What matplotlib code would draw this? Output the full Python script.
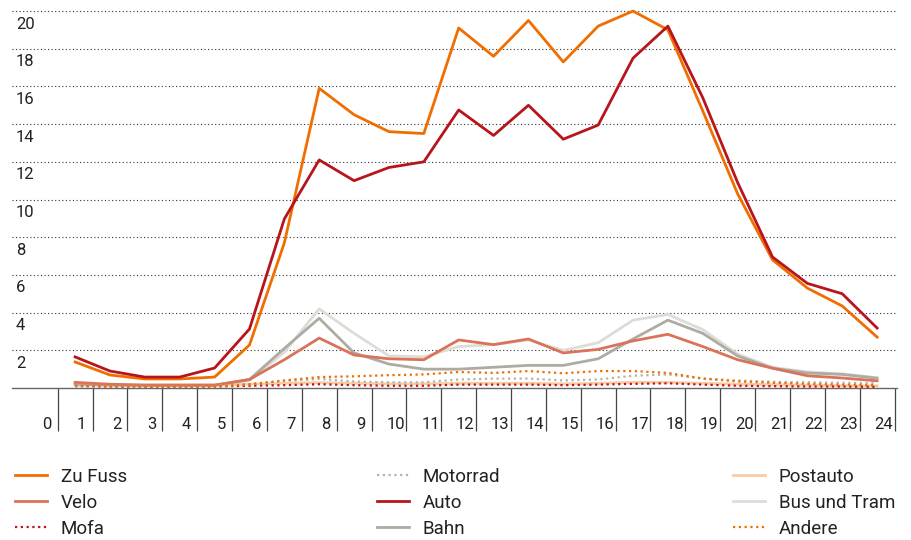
import matplotlib
matplotlib.use("Agg")
import matplotlib.pyplot as plt
import matplotlib.transforms as mtransforms
from matplotlib.lines import Line2D

plt.rcParams['font.family'] = ['Liberation Sans Narrow', 'Roboto', 'DejaVu Sans']

hours = list(range(1, 25))
hour_labels = [str(h) for h in range(0, 25)]
y_labels = list(range(2, 21, 2))

zu_fuss = [1.38, 0.69, 0.48, 0.48, 0.58, 2.28, 7.7, 15.9, 14.5, 13.6, 13.5, 19.1,
           17.6, 19.5, 17.3, 19.2, 20.0, 19.0, 14.7, 10.3, 6.8, 5.3, 4.35, 2.7]
auto = [1.65, 0.9, 0.58, 0.58, 1.06, 3.13, 8.97, 12.1, 11.0, 11.7, 12.0, 14.75,
        13.4, 15.0, 13.2, 13.95, 17.5, 19.2, 15.4, 10.9, 6.95, 5.55, 5.0, 3.18]
velo = [0.3, 0.2, 0.15, 0.15, 0.15, 0.45, 1.5, 2.65, 1.75, 1.55, 1.5, 2.55,
        2.3, 2.6, 1.86, 2.05, 2.5, 2.85, 2.2, 1.5, 1.05, 0.65, 0.53, 0.38]
bahn = [0.2, 0.15, 0.15, 0.15, 0.15, 0.45, 2.1, 3.7, 1.86, 1.27, 1.0, 1.0,
        1.1, 1.2, 1.2, 1.55, 2.6, 3.6, 2.9, 1.7, 1.05, 0.8, 0.72, 0.52]
bus_tram = [0.15, 0.15, 0.15, 0.15, 0.15, 0.4, 1.9, 4.2, 2.9, 1.7, 1.65, 2.2,
            2.3, 2.55, 2.0, 2.4, 3.6, 3.9, 3.1, 1.8, 1.1, 0.85, 0.75, 0.55]
postauto = [0.2, 0.18, 0.15, 0.15, 0.15, 0.2, 0.25, 0.28, 0.25, 0.22, 0.22, 0.25,
            0.25, 0.25, 0.22, 0.25, 0.3, 0.3, 0.25, 0.2, 0.18, 0.15, 0.12, 0.1]
motorrad = [0.1, 0.1, 0.08, 0.08, 0.1, 0.2, 0.37, 0.48, 0.35, 0.3, 0.3, 0.45,
            0.5, 0.5, 0.4, 0.45, 0.65, 0.72, 0.5, 0.4, 0.33, 0.3, 0.28, 0.25]
mofa = [0.1, 0.08, 0.06, 0.06, 0.08, 0.12, 0.15, 0.2, 0.15, 0.12, 0.12, 0.18,
        0.18, 0.18, 0.15, 0.18, 0.22, 0.25, 0.18, 0.12, 0.1, 0.08, 0.08, 0.06]
andere = [0.12, 0.08, 0.06, 0.06, 0.08, 0.2, 0.4, 0.58, 0.62, 0.68, 0.72, 0.85,
          0.8, 0.9, 0.78, 0.9, 0.9, 0.8, 0.5, 0.35, 0.28, 0.22, 0.18, 0.15]

dot = (0, (1, 1.6))
# label, values, color, style, width, zorder
series = [
    ("Zu Fuss", zu_fuss, "#F06E00", "-", 2.0, 8),
    ("Velo", velo, "#D9735A", "-", 2.0, 5),
    ("Mofa", mofa, "#C0121B", dot, 1.6, 6),
    ("Motorrad", motorrad, "#B5B2AA", dot, 1.6, 6),
    ("Auto", auto, "#B8141B", "-", 2.0, 9),
    ("Bahn", bahn, "#ADABA2", "-", 2.0, 4),
    ("Postauto", postauto, "#F8CBA5", "-", 2.0, 3),
    ("Bus und Tram", bus_tram, "#DDDCD6", "-", 2.0, 2),
    ("Andere", andere, "#F06E00", dot, 1.6, 7),
]

fig = plt.figure(figsize=(9.11, 5.40), dpi=100)
ax = fig.add_axes([12/911, 152/540, 885/911, 384.5/540])

handles = []
for label, vals, col, ls, lw, z in series:
    ax.plot(hours, vals, color=col, linestyle=ls, lw=lw, zorder=z)
    handles.append(Line2D([], [], color=col, linestyle=ls, lw=lw, label=label))

ax.set_xlim(-0.81, 24.57)
ax.set_ylim(0, 20.4)

for s in ["top", "right", "left"]:
    ax.spines[s].set_visible(False)
ax.spines["bottom"].set_color("#666666")
ax.spines["bottom"].set_linewidth(1)

# y grid, labels drawn below each line
ax.set_yticks(y_labels)
ax.tick_params(axis="y", length=0, labelleft=False)
ax.yaxis.grid(True, linestyle=(0, (1, 2.2)), color="#333333", lw=0.8)
ax.set_axisbelow(True)
trans = mtransforms.blended_transform_factory(ax.transAxes, ax.transData)
trans = trans + mtransforms.ScaledTranslation(0, -4/72, fig.dpi_scale_trans)
for v in y_labels:
    ax.text(0.0045, v, str(v), transform=trans, va="top", ha="left",
            fontsize=12, color="#222222")

# x ticks: labels near each hour, long separator ticks between hours
ax.set_xticks([h + 0.19 for h in range(25)])
ax.set_xticklabels(hour_labels)
ax.set_xticks([h + 0.5 for h in range(25)], minor=True)
ax.tick_params(axis="x", which="major", length=0, pad=21, labelsize=12,
               labelcolor="#222222")
ax.tick_params(axis="x", which="minor", length=31, width=0.9, color="#444444")

legend_x = [15/911, 377/911, 733/911]
for i in range(3):
    leg = fig.legend(handles=handles[i*3:(i+1)*3], loc="upper left",
                     bbox_to_anchor=(legend_x[i], 1 - 468/540), frameon=False,
                     fontsize=13.5, handlelength=1.7, handletextpad=0.75,
                     labelspacing=0.42, borderpad=0, borderaxespad=0)
    for t in leg.get_texts():
        t.set_color("#222222")

fig.savefig("out.png", dpi=100)
